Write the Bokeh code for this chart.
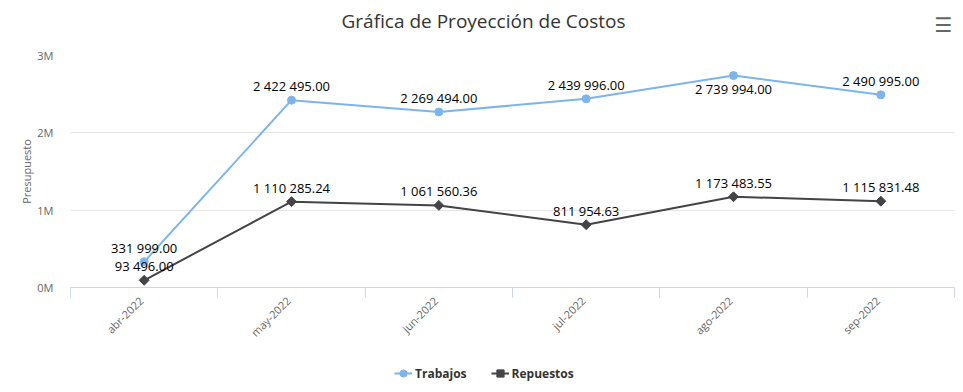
from bokeh.plotting import figure
from bokeh.layouts import column
from bokeh.models import (Range1d, FixedTicker, Legend, LegendItem, Label,
                          ColumnDataSource)
from bokeh.core.properties import value
from bokeh.embed import file_html
from bokeh.resources import INLINE
import math

categories = ["abr-2022", "may-2022", "jun-2022", "jul-2022", "ago-2022", "sep-2022"]
trabajos = [331999.00, 2422495.00, 2269494.00, 2439996.00, 2739994.00, 2490995.00]
repuestos = [93496.00, 1110285.24, 1061560.36, 811954.63, 1173483.55, 1115831.48]
trabajos_label_below = [False, False, False, False, True, False]
y_ticks = [0, 1000000, 2000000, 3000000]
y_tick_labels = ["0M", "1M", "2M", "3M"]
title_text = "Gráfica de Proyección de Costos"
series_names = ["Trabajos", "Repuestos"]

FONT = "Open Sans"
W = 960
HEAD_H, MAIN_H, LEG_H = 40, 322, 22
LEFT, RIGHT, TOP, BOTTOM = 70, 6, 15, 75
FRAME_W = W - LEFT - RIGHT
LABEL_SHIFT = 3 / (FRAME_W / len(categories))  # rotated labels end at the category centre
C1, C2 = "#7cb5ec", "#434348"

def fmt(v):
    return f"{v:,.2f}".replace(",", " ")

def bare(fig):
    fig.outline_line_color = None
    fig.xaxis.visible = False
    fig.yaxis.visible = False
    fig.xgrid.grid_line_color = None
    fig.ygrid.grid_line_color = None
    return fig

xs = list(range(len(categories)))

# ---- header: title + menu icon (frames are aligned in the column, so map page pixels)
head = bare(figure(width=W, height=HEAD_H, output_backend="svg", toolbar_location=None,
                   x_range=Range1d(LEFT, W - RIGHT), y_range=Range1d(0, HEAD_H),
                   min_border=0))
head.add_layout(Label(x=483, y=HEAD_H - 20, text=title_text, text_align="center",
                      text_baseline="middle", text_font=FONT, text_font_size="19px",
                      text_color="#333333"))
head.add_layout(Label(x=943, y=HEAD_H - 24, text="☰", text_align="center",
                      text_baseline="middle", text_font="DejaVu Sans", text_font_size="20px",
                      text_font_style="bold", text_color="#666666"))

# ---- main chart
p = figure(width=W, height=MAIN_H, output_backend="svg", toolbar_location=None,
           x_range=Range1d(-0.5, len(categories) - 0.5), y_range=Range1d(0, 3000000),
           min_border_left=LEFT, min_border_right=RIGHT, min_border_top=TOP,
           min_border_bottom=BOTTOM)
p.outline_line_color = None

label_pos = [i - LABEL_SHIFT for i in xs]
p.xaxis.ticker = FixedTicker(ticks=label_pos,
                             minor_ticks=[i - 0.5 for i in range(len(categories) + 1)])
p.xaxis.major_label_overrides = {pos: c for pos, c in zip(label_pos, categories)}
p.xaxis.major_label_orientation = math.pi / 4
p.xaxis.major_tick_line_color = None
p.xaxis.major_tick_out = 0
p.xaxis.major_tick_in = 0
p.xaxis.minor_tick_line_color = "#ccd6eb"
p.xaxis.minor_tick_out = 10
p.xaxis.minor_tick_in = 0
p.xaxis.axis_line_color = "#ccd6eb"
p.xaxis.major_label_text_font = FONT
p.xaxis.major_label_text_font_size = "11px"
p.xaxis.major_label_text_color = "#666666"
p.xaxis.major_label_standoff = 1

p.yaxis.ticker = FixedTicker(ticks=y_ticks)
p.yaxis.major_label_overrides = {v: l for v, l in zip(y_ticks, y_tick_labels)}
p.yaxis.axis_line_color = None
p.yaxis.major_tick_line_color = None
p.yaxis.major_tick_out = 0
p.yaxis.minor_tick_line_color = None
p.yaxis.major_label_text_font = FONT
p.yaxis.major_label_text_font_size = "11px"
p.yaxis.major_label_text_color = "#666666"
p.yaxis.major_label_standoff = 17
p.yaxis.axis_label = "Presupuesto"
p.yaxis.axis_label_text_font = FONT
p.yaxis.axis_label_text_font_size = "11px"
p.yaxis.axis_label_text_font_style = "normal"
p.yaxis.axis_label_text_color = "#666666"
p.yaxis.axis_label_standoff = 0

p.xgrid.grid_line_color = None
p.ygrid.grid_line_color = "#e6e6e6"
p.ygrid.ticker = FixedTicker(ticks=y_ticks[1:])

p.line(xs, trabajos, line_color=C1, line_width=2)
p.scatter(xs, trabajos, marker="circle", size=8, fill_color=C1, line_color=C1)
p.line(xs, repuestos, line_color=C2, line_width=2)
p.scatter(xs, repuestos, marker="square", angle=math.pi / 4, size=7,
          fill_color=C2, line_color=C2)

def labels(vals, below_flags):
    for flag, off in ((False, -14), (True, 13)):
        src = ColumnDataSource(dict(x=[x for x, b in zip(xs, below_flags) if b == flag],
                                    y=[v for v, b in zip(vals, below_flags) if b == flag],
                                    t=[fmt(v) for v, b in zip(vals, below_flags) if b == flag]))
        p.text(x="x", y="y", text="t", source=src, y_offset=off, text_align="center",
               text_baseline="middle", text_font=value(FONT), text_font_size="13px",
               text_color="#000000")

labels(trabajos, trabajos_label_below)
labels(repuestos, [False] * len(repuestos))

# ---- legend strip (series drawn out of view; only their legend glyphs show)
leg = bare(figure(width=W, height=LEG_H, output_backend="svg", toolbar_location=None,
                  x_range=Range1d(LEFT, W - RIGHT), y_range=Range1d(-2, -1), min_border=0))
r1l = leg.line(xs, trabajos, line_color=C1, line_width=2)
r1m = leg.scatter(xs, trabajos, marker="circle", size=8, fill_color=C1, line_color=C1)
r2l = leg.line(xs, repuestos, line_color=C2, line_width=2)
r2m = leg.scatter(xs, repuestos, marker="square", angle=math.pi / 4, size=7,
                  fill_color=C2, line_color=C2)
legend = Legend(items=[LegendItem(label=series_names[0], renderers=[r1l, r1m]),
                       LegendItem(label=series_names[1], renderers=[r2l, r2m])],
                orientation="horizontal", location=(394 - LEFT, 1),
                label_text_font=FONT, label_text_font_size="12px",
                label_text_font_style="bold", label_text_color="#333333",
                glyph_width=18, glyph_height=20, label_height=20, spacing=24,
                padding=0, margin=0, border_line_color=None, background_fill_alpha=0,
                label_standoff=3)
leg.add_layout(legend, "center")

layout = column(head, p, leg, spacing=0)
open("out.html", "w").write(file_html(layout, INLINE))
